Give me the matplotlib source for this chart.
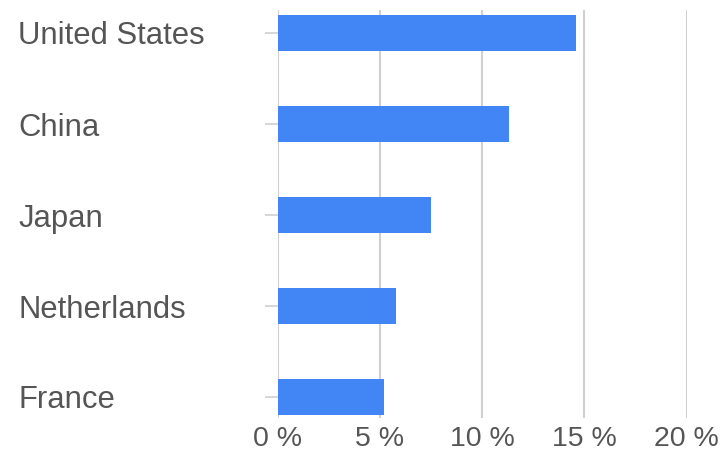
import matplotlib
matplotlib.use("Agg")
import matplotlib.pyplot as plt
import numpy as np

countries = ["United States", "China", "Japan", "Netherlands", "France"]
shares = [14.6, 11.3, 7.5, 5.8, 5.2]
xticks = [0, 5, 10, 15, 20]
xtick_labels = ["0 %", "5 %", "10 %", "15 %", "20 %"]

plt.rcParams['font.family'] = ['Liberation Sans', 'DejaVu Sans']

fig = plt.figure(figsize=(7.23, 4.54), dpi=100)
W, H = 723, 454
left, right, top, bottom = 277.7, 686.7, 10, 418
ax = fig.add_axes([left / W, 1 - bottom / H, (right - left) / W, (bottom - top) / H])

y = np.arange(len(countries))
ax.barh(y, shares, height=0.4, color="#4285F4", zorder=3)

ax.set_xlim(0, 20)
ax.set_ylim(4 + 21 / 91, -23 / 91)

ax.set_xticks(xticks)
ax.set_xticklabels(xtick_labels, fontsize=20.5, color="#555555")
ax.tick_params(axis='x', length=0, pad=6)
ax.grid(axis='x', color="#d0d0d0", linewidth=1.5, zorder=0)

ax.set_yticks(y)
ax.set_yticklabels(countries, fontsize=22.3, color="#555555")
tick_len_pt = 13 * 72 / 100
pad_pt = (left - 18) * 72 / 100 - tick_len_pt
ax.tick_params(axis='y', length=tick_len_pt, width=1.2, color="#d0d0d0", pad=pad_pt)
for lab in ax.get_yticklabels():
    lab.set_ha('left')

for s in ax.spines.values():
    s.set_visible(False)

fig.savefig("out.png", dpi=100)
